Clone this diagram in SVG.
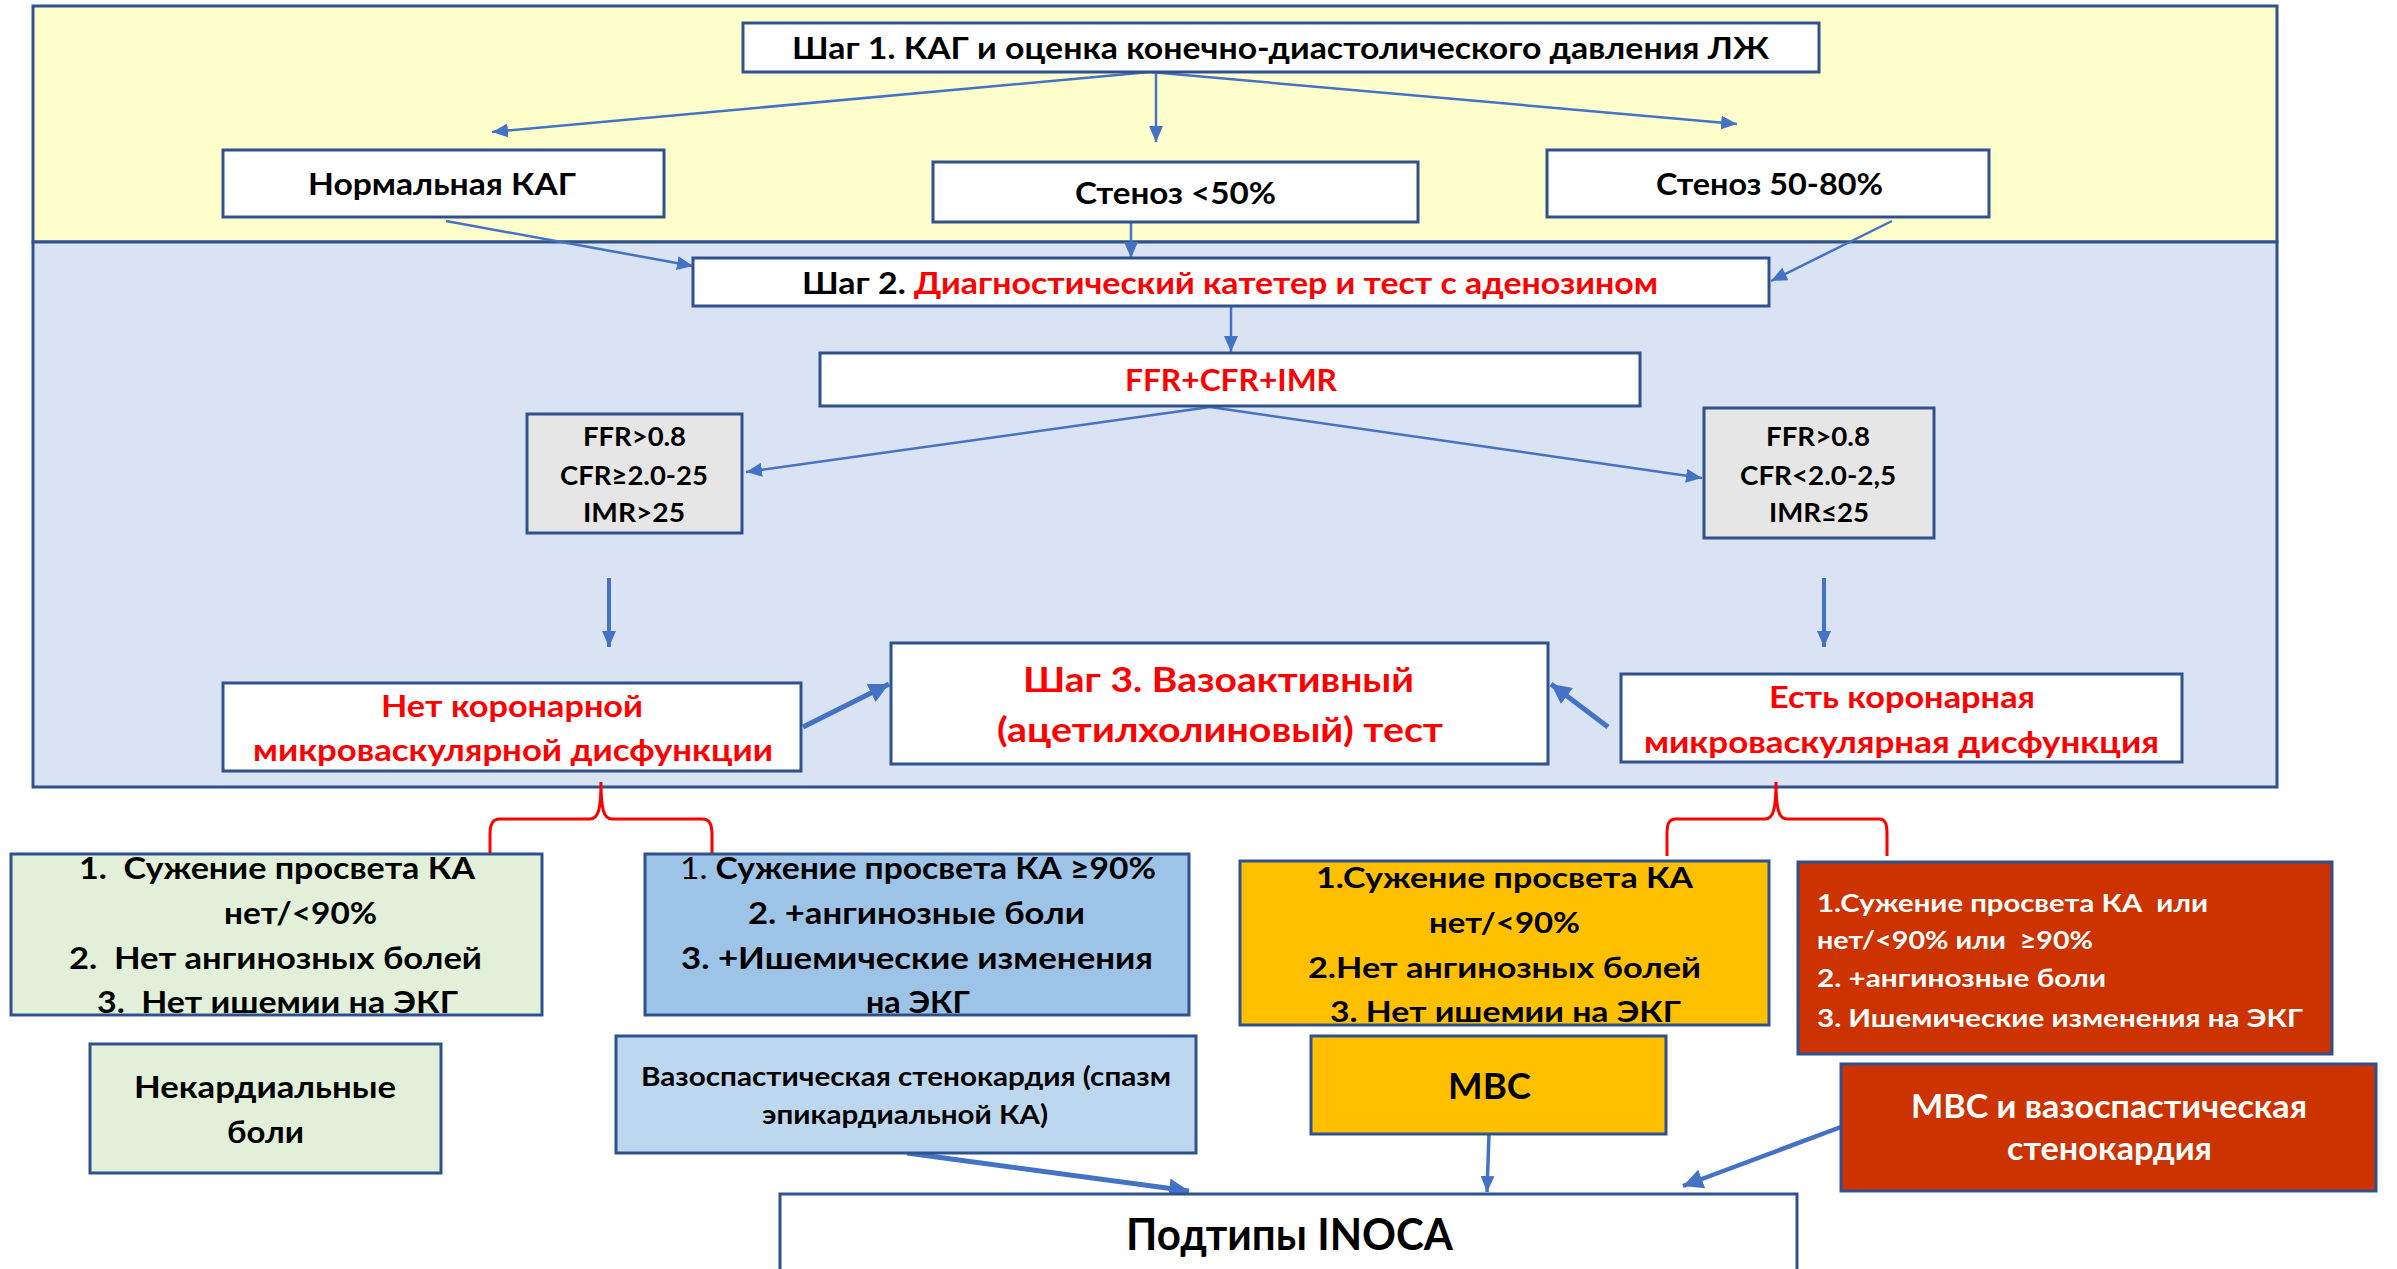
<svg xmlns="http://www.w3.org/2000/svg" width="2397" height="1269" viewBox="0 0 2397 1269">
<defs>
<style>
.box{stroke:#2F528F;stroke-width:3}
.w{fill:#FFFFFF}
.t{font-family:Lato,"Open Sans","Liberation Sans",sans-serif;font-weight:bold;text-anchor:start;fill:#000}
.red{fill:#FF0000}
.wh{fill:#FFFFFF}
.ln{stroke:#4472C4;stroke-width:2.5;fill:none}
.lk{stroke:#4472C4;stroke-width:5;fill:none}
.br{stroke:#FF0000;stroke-width:3;fill:none}
</style>
<marker id="ah" markerUnits="userSpaceOnUse" markerWidth="18" markerHeight="14" refX="16" refY="7" orient="auto"><path d="M0,0 L16,7 L0,14 Z" fill="#4472C4"/></marker>
<marker id="ahk" markerUnits="userSpaceOnUse" markerWidth="22" markerHeight="20" refX="20" refY="10" orient="auto"><path d="M0,0 L20,10 L0,20 Z" fill="#4472C4"/></marker>
</defs>
<rect width="2397" height="1269" fill="#FFFFFF"/>
<g id="bands">
<rect x="33" y="6" width="2244" height="236" fill="#FFFFCC" class="box"/>
<rect x="33" y="242" width="2244" height="545" fill="#DAE3F3" class="box"/>
</g>
<g id="connectors">
<line class="ln" x1="1150" y1="72" x2="492" y2="132" marker-end="url(#ah)"/>
<line class="ln" x1="1156" y1="72" x2="1156" y2="142" marker-end="url(#ah)"/>
<line class="ln" x1="1150" y1="72" x2="1737" y2="124" marker-end="url(#ah)"/>
<line class="ln" x1="446" y1="221" x2="693" y2="266" marker-end="url(#ah)"/>
<line class="ln" x1="1131" y1="222" x2="1131" y2="258" marker-end="url(#ah)"/>
<line class="ln" x1="1892" y1="221" x2="1771" y2="281" marker-end="url(#ah)"/>
<line class="ln" x1="1231" y1="306" x2="1231" y2="352" marker-end="url(#ah)"/>
<line class="ln" x1="1210" y1="407" x2="746" y2="472" marker-end="url(#ah)"/>
<line class="ln" x1="1210" y1="407" x2="1702" y2="478" marker-end="url(#ah)"/>
<line class="ln" x1="609" y1="578" x2="609" y2="647" style="stroke-width:4" marker-end="url(#ah)"/>
<line class="ln" x1="1824" y1="578" x2="1824" y2="647" style="stroke-width:4" marker-end="url(#ah)"/>
<line class="lk" x1="803" y1="727" x2="889" y2="684" marker-end="url(#ahk)"/>
<line class="lk" x1="1608" y1="727" x2="1551" y2="684" marker-end="url(#ahk)"/>
<path class="br" d="M601,782 C601,810 598,819 590,819 L500,819 C492,819 490,825 490,835 L490,856 M601,782 C601,810 604,819 612,819 L702,819 C710,819 712,825 712,835 L712,856"/>
<path class="br" d="M1776,782 C1776,810 1773,819 1765,819 L1676,819 C1668,819 1667,825 1667,835 L1667,856 M1776,782 C1776,810 1779,819 1787,819 L1879,819 C1886,819 1887,825 1887,835 L1887,856"/>
<line class="lk" x1="907" y1="1153" x2="1189" y2="1191" marker-end="url(#ahk)"/>
<line class="ln" x1="1489" y1="1134" x2="1487" y2="1192" style="stroke-width:3.5" marker-end="url(#ah)"/>
<line class="ln" x1="1841" y1="1127" x2="1683" y2="1186" style="stroke-width:4.5" marker-end="url(#ahk)"/>
</g>
<g id="step1">
<rect class="box w" x="743" y="23" width="1076" height="49"/>
<text class="t" x="792" y="59" font-size="30" textLength="977" lengthAdjust="spacingAndGlyphs">Шаг 1. КАГ и оценка конечно-диастолического давления ЛЖ</text>
</g>
<g id="normal">
<rect class="box w" x="223" y="150" width="441" height="67"/>
<text class="t" x="308" y="195" font-size="30" textLength="268" lengthAdjust="spacingAndGlyphs">Нормальная КАГ</text>
</g>
<g id="sten50">
<rect class="box w" x="933" y="162" width="485" height="60"/>
<text class="t" x="1075" y="204" font-size="30" textLength="201" lengthAdjust="spacingAndGlyphs">Стеноз &lt;50%</text>
</g>
<g id="sten5080">
<rect class="box w" x="1547" y="150" width="442" height="67"/>
<text class="t" x="1656" y="195" font-size="30" textLength="227" lengthAdjust="spacingAndGlyphs">Стеноз 50-80%</text>
</g>
<g id="step2">
<rect class="box w" x="693" y="258" width="1076" height="48"/>
<text class="t" x="802" y="294" font-size="31" textLength="856" lengthAdjust="spacingAndGlyphs">Шаг 2. <tspan class="red">Диагностический катетер и тест с аденозином</tspan></text>
</g>
<g id="ffr">
<rect class="box w" x="820" y="353" width="820" height="53"/>
<text class="t red" x="1125" y="391" font-size="30" textLength="212" lengthAdjust="spacingAndGlyphs">FFR+CFR+IMR</text>
</g>
<g id="greyL">
<rect class="box" fill="#E7E6E6" x="527" y="414" width="215" height="119"/>
<text class="t" x="583" y="446" font-size="26" textLength="103" lengthAdjust="spacingAndGlyphs">FFR&gt;0.8</text>
<text class="t" x="560" y="485" font-size="26" textLength="148" lengthAdjust="spacingAndGlyphs">CFR≥2.0-25</text>
<text class="t" x="583" y="522" font-size="26" textLength="102" lengthAdjust="spacingAndGlyphs">IMR&gt;25</text>
</g>
<g id="greyR">
<rect class="box" fill="#E7E6E6" x="1704" y="408" width="230" height="130"/>
<text class="t" x="1766" y="446" font-size="26" textLength="104" lengthAdjust="spacingAndGlyphs">FFR&gt;0.8</text>
<text class="t" x="1740" y="485" font-size="26" textLength="156" lengthAdjust="spacingAndGlyphs">CFR&lt;2.0-2,5</text>
<text class="t" x="1769" y="522" font-size="26" textLength="100" lengthAdjust="spacingAndGlyphs">IMR≤25</text>
</g>
<g id="nocmd">
<rect class="box w" x="223" y="683" width="578" height="88"/>
<text class="t red" x="381" y="717" font-size="30" textLength="262" lengthAdjust="spacingAndGlyphs">Нет коронарной</text>
<text class="t red" x="253" y="761" font-size="30" textLength="520" lengthAdjust="spacingAndGlyphs">микроваскулярной дисфункции</text>
</g>
<g id="step3">
<rect class="box w" x="891" y="643" width="657" height="121"/>
<text class="t red" x="1023" y="692" font-size="35" textLength="391" lengthAdjust="spacingAndGlyphs">Шаг 3. Вазоактивный</text>
<text class="t red" x="997" y="742" font-size="35" textLength="446" lengthAdjust="spacingAndGlyphs">(ацетилхолиновый) тест</text>
</g>
<g id="cmd">
<rect class="box w" x="1621" y="674" width="561" height="88"/>
<text class="t red" x="1769" y="708" font-size="30" textLength="266" lengthAdjust="spacingAndGlyphs">Есть коронарная</text>
<text class="t red" x="1644" y="753" font-size="30" textLength="515" lengthAdjust="spacingAndGlyphs">микроваскулярная дисфункция</text>
</g>
<g id="green1">
<rect class="box" fill="#E2F0D9" x="11" y="854" width="531" height="161"/>
<text class="t" x="79" y="879" font-size="30" textLength="396" lengthAdjust="spacingAndGlyphs" xml:space="preserve">1.  Сужение просвета КА</text>
<text class="t" x="224" y="924" font-size="30" textLength="153" lengthAdjust="spacingAndGlyphs">нет/&lt;90%</text>
<text class="t" x="69" y="969" font-size="30" textLength="413" lengthAdjust="spacingAndGlyphs" xml:space="preserve">2.  Нет ангинозных болей</text>
<text class="t" x="97" y="1013" font-size="30" textLength="361" lengthAdjust="spacingAndGlyphs" xml:space="preserve">3.  Нет ишемии на ЭКГ</text>
</g>
<g id="blue1">
<rect class="box" fill="#9DC3E6" x="645" y="854" width="544" height="161"/>
<text class="t" x="680" y="879" font-size="30" textLength="476" lengthAdjust="spacingAndGlyphs"><tspan font-weight="normal">1.</tspan> Сужение просвета КА ≥90%</text>
<text class="t" x="748" y="924" font-size="30" textLength="337" lengthAdjust="spacingAndGlyphs">2. +ангинозные боли</text>
<text class="t" x="681" y="969" font-size="30" textLength="472" lengthAdjust="spacingAndGlyphs">3. +Ишемические изменения</text>
<text class="t" x="866" y="1013" font-size="30" textLength="104" lengthAdjust="spacingAndGlyphs">на ЭКГ</text>
</g>
<g id="noncard">
<rect class="box" fill="#E2F0D9" x="90" y="1044" width="351" height="129"/>
<text class="t" x="134" y="1098" font-size="31" textLength="262" lengthAdjust="spacingAndGlyphs">Некардиальные</text>
<text class="t" x="227" y="1143" font-size="31" textLength="77" lengthAdjust="spacingAndGlyphs">боли</text>
</g>
<g id="vaso">
<rect class="box" fill="#BDD7EE" x="616" y="1036" width="580" height="117"/>
<text class="t" x="641" y="1086" font-size="26" textLength="530" lengthAdjust="spacingAndGlyphs">Вазоспастическая стенокардия (спазм</text>
<text class="t" x="762" y="1124" font-size="26" textLength="286" lengthAdjust="spacingAndGlyphs">эпикардиальной КА)</text>
</g>
<g id="orange1">
<rect class="box" fill="#FFC000" x="1240" y="861" width="529" height="164"/>
<text class="t" x="1316" y="888" font-size="29" textLength="377" lengthAdjust="spacingAndGlyphs">1.Сужение просвета КА</text>
<text class="t" x="1429" y="933" font-size="29" textLength="151" lengthAdjust="spacingAndGlyphs">нет/&lt;90%</text>
<text class="t" x="1308" y="978" font-size="29" textLength="393" lengthAdjust="spacingAndGlyphs">2.Нет ангинозных болей</text>
<text class="t" x="1330" y="1022" font-size="29" textLength="351" lengthAdjust="spacingAndGlyphs">3. Нет ишемии на ЭКГ</text>
</g>
<g id="red1">
<rect class="box" fill="#CC3300" x="1798" y="862" width="534" height="192"/>
<text class="t wh" x="1817" y="912" font-size="25" textLength="391" lengthAdjust="spacingAndGlyphs" xml:space="preserve">1.Сужение просвета КА  или</text>
<text class="t wh" x="1817" y="949" font-size="25" textLength="276" lengthAdjust="spacingAndGlyphs" xml:space="preserve">нет/&lt;90% или  ≥90%</text>
<text class="t wh" x="1817" y="987" font-size="25" textLength="289" lengthAdjust="spacingAndGlyphs">2. +ангинозные боли</text>
<text class="t wh" x="1817" y="1027" font-size="25" textLength="486" lengthAdjust="spacingAndGlyphs">3. Ишемические изменения на ЭКГ</text>
</g>
<g id="mbc">
<rect class="box" fill="#FFC000" x="1311" y="1036" width="355" height="98"/>
<text class="t" x="1448" y="1099" font-size="37" textLength="83" lengthAdjust="spacingAndGlyphs">МВС</text>
</g>
<g id="mbcvaso">
<rect class="box" fill="#CC3300" x="1841" y="1064" width="535" height="127"/>
<text class="t wh" x="1911" y="1118" font-size="32" textLength="396" lengthAdjust="spacingAndGlyphs">МВС и вазоспастическая</text>
<text class="t wh" x="2007" y="1160" font-size="32" textLength="205" lengthAdjust="spacingAndGlyphs">стенокардия</text>
</g>
<g id="inoca">
<rect class="box w" x="780" y="1194" width="1017" height="90"/>
<text class="t" x="1126" y="1250" font-size="44" textLength="327" lengthAdjust="spacingAndGlyphs">Подтипы INOCA</text>
</g>
</svg>
